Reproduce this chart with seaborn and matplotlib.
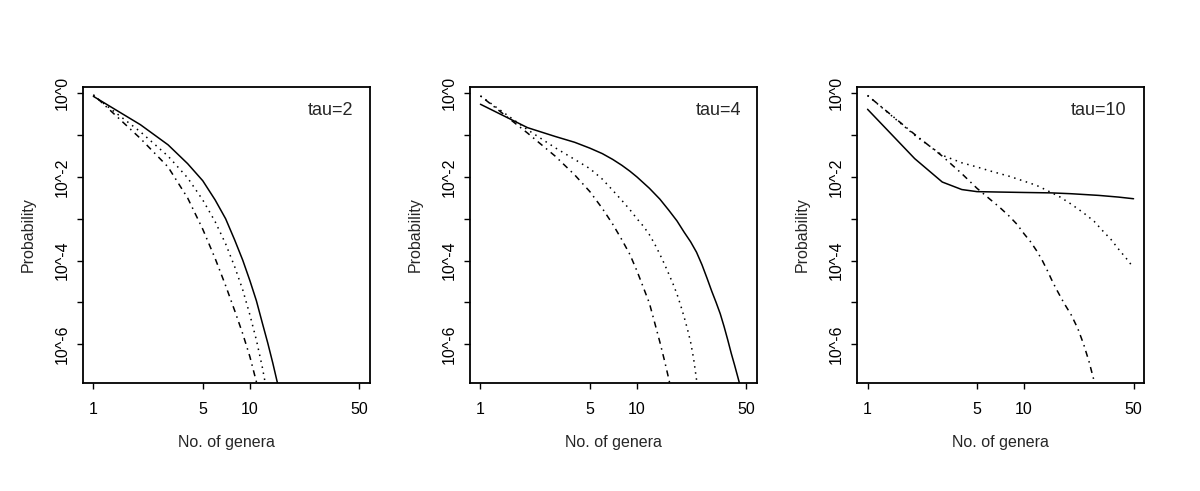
"""Distribution of the number of genera for three values of tau (log-log)."""
import numpy as np
import pandas as pd
import matplotlib
matplotlib.use("Agg")
import matplotlib.pyplot as plt
import seaborn as sns

# values, stored as log10(probability) at each n
tau2_n_solid = [1, 2, 3, 4, 5, 6, 7, 8, 9, 10, 11, 12, 13, 14, 15, 16]
tau2_solid = [-0.07, -0.75, -1.23, -1.68, -2.09, -2.55, -3.0, -3.51, -3.99,
              -4.48, -4.96, -5.49, -5.97, -6.45, -6.93, -7.45]
tau2_n_dot = [1, 2, 3, 4, 5, 6, 7, 8, 9, 10, 11, 12, 13]
tau2_dot = [-0.05, -0.92, -1.5, -2.02, -2.55, -3.07, -3.6, -4.15, -4.7,
            -5.3, -5.9, -6.55, -7.25]
tau2_n_dashdot = [1, 2, 3, 4, 5, 6, 7, 8, 9, 10, 11, 12]
tau2_dashdot = [-0.03, -1.08, -1.76, -2.5, -3.25, -3.95, -4.6, -5.2, -5.75,
                -6.3, -6.9, -7.5]

tau4_n_solid = [1, 2, 3, 4, 5, 6, 7, 8, 9, 10, 12, 14, 16, 18, 20, 22, 24,
                26, 28, 30, 32, 34, 36, 38, 40, 42, 44, 46, 48]
tau4_solid = [-0.26, -0.82, -1.03, -1.17, -1.31, -1.44, -1.58, -1.72, -1.86,
              -2.0, -2.27, -2.53, -2.8, -3.05, -3.32, -3.55, -3.8, -4.1,
              -4.42, -4.73, -5.0, -5.27, -5.58, -5.9, -6.22, -6.5, -6.78,
              -7.05, -7.3]
tau4_n_dot = [1, 2, 3, 4, 5, 6, 7, 8, 9, 10, 11, 12, 13, 14, 15, 16, 17, 18,
              19, 20, 21, 22, 23, 24, 25, 26]
tau4_dot = [-0.06, -0.87, -1.3, -1.58, -1.8, -2.05, -2.32, -2.56, -2.78,
            -3.0, -3.18, -3.38, -3.61, -3.85, -4.09, -4.33, -4.56, -4.8,
            -5.07, -5.35, -5.64, -5.95, -6.35, -6.85, -7.3, -7.7]
tau4_n_dashdot = [1, 2, 3, 4, 5, 6, 7, 8, 9, 10, 11, 12, 13, 14, 15, 16, 17]
tau4_dashdot = [-0.06, -0.95, -1.5, -1.95, -2.35, -2.75, -3.13, -3.5, -3.85,
                -4.25, -4.65, -5.02, -5.5, -5.95, -6.4, -6.85, -7.3]

tau10_n_solid = [1, 2, 3, 4, 5, 7, 10, 15, 20, 30, 40, 50]
tau10_solid = [-0.38, -1.56, -2.12, -2.3, -2.35, -2.36, -2.37, -2.38, -2.4,
               -2.44, -2.48, -2.52]
tau10_n_dot = [1, 2, 3, 4, 5, 6, 7, 8, 10, 12, 14, 17, 20, 24, 28, 32, 36, 40,
               45, 50]
tau10_dot = [-0.05, -1.0, -1.48, -1.66, -1.76, -1.85, -1.92, -1.98, -2.1,
             -2.2, -2.32, -2.48, -2.65, -2.86, -3.06, -3.3, -3.5, -3.72,
             -3.95, -4.17]
tau10_n_dashdot = [1, 2, 3, 4, 5, 6, 7, 8, 9, 10, 11, 12, 13, 14, 15, 16, 18,
                   20, 22, 24, 26, 28, 30]
tau10_dashdot = [-0.05, -0.98, -1.5, -1.92, -2.27, -2.52, -2.73, -2.93, -3.13,
                 -3.36, -3.55, -3.76, -3.98, -4.22, -4.46, -4.67, -5.02,
                 -5.3, -5.62, -6.0, -6.42, -6.88, -7.35]

panel_titles = ["tau=2", "tau=4", "tau=10"]
title_x = [0.861, 0.865, 0.84]
x_ticks = [1, 5, 10, 50]
y_tick_exps = [0, -1, -2, -3, -4, -5, -6]


def build_frame(ns, logs, names):
    """Junta as tres curvas de um painel num DataFrame longo."""
    parts = []
    for n, lp, name in zip(ns, logs, names):
        parts.append(pd.DataFrame({"n": n, "prob": 10.0 ** np.array(lp),
                                   "curve": name}))
    return pd.concat(parts, ignore_index=True)


names = ["solid", "dotted", "dashdot"]
frames = [
    build_frame([tau2_n_solid, tau2_n_dot, tau2_n_dashdot],
                [tau2_solid, tau2_dot, tau2_dashdot], names),
    build_frame([tau4_n_solid, tau4_n_dot, tau4_n_dashdot],
                [tau4_solid, tau4_dot, tau4_dashdot], names),
    build_frame([tau10_n_solid, tau10_n_dot, tau10_n_dashdot],
                [tau10_solid, tau10_dot, tau10_dashdot], names),
]

sns.set_style("ticks")
plt.rcParams["font.family"] = ["Liberation Sans", "DejaVu Sans"]

fig = plt.figure(figsize=(12, 4.91), dpi=100)
lefts = [82.7, 469.8, 856.9]
dashes = {"solid": "", "dotted": (1, 3), "dashdot": (1, 3, 4, 3)}

for left, df, title, tx in zip(lefts, frames, panel_titles, title_x):
    ax = fig.add_axes([left / 1200, 108.3 / 491, 287.3 / 1200, 296 / 491])
    ax.set_xscale("log")
    ax.set_yscale("log")
    sns.lineplot(data=df, x="n", y="prob", style="curve", dashes=dashes,
                 color="black", linewidth=1.1, legend=False, ax=ax,
                 estimator=None, sort=False)
    ax.set_xlim(10 ** -0.068, 10 ** 1.767)
    ax.set_ylim(10 ** -6.92, 10 ** 0.16)

    ax.set_xticks(x_ticks)
    ax.set_xticklabels([str(t) for t in x_ticks])
    ax.set_yticks([10.0 ** e for e in y_tick_exps])
    ax.set_yticklabels([f"10^{e}" if e % 2 == 0 else "" for e in y_tick_exps],
                       rotation=90, va="center")
    ax.minorticks_off()
    ax.tick_params(axis="both", direction="out", length=4.2, width=1,
                   color="black", labelsize=11.5, labelcolor="black")
    ax.tick_params(axis="x", pad=10)
    ax.tick_params(axis="y", pad=5)
    for side in ["left", "right", "top", "bottom"]:
        ax.spines[side].set_visible(True)
        ax.spines[side].set_linewidth(1.3)
        ax.spines[side].set_color("black")

    ax.set_xlabel("No. of genera", fontsize=11.5)
    ax.set_ylabel("Probability", fontsize=11.5)
    ax.xaxis.set_label_coords(0.5, -0.175)
    ax.yaxis.set_label_coords(-0.165, 0.5)
    ax.text(tx, 0.918, title, transform=ax.transAxes, ha="center",
            va="center", fontsize=13)

fig.savefig("out.png", dpi=100)
